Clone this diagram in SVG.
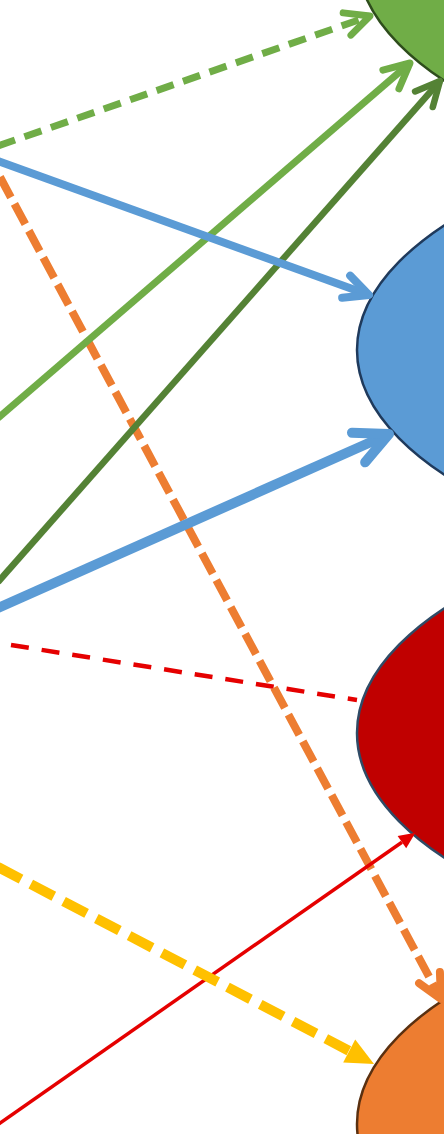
<svg xmlns="http://www.w3.org/2000/svg" width="444" height="1134" viewBox="0 0 444 1134">
  <style>
    .node { stroke-width: 2.5; }
    .edge { fill: none; stroke-linejoin: round; }
    .chev { fill: none; stroke-linecap: round; stroke-linejoin: round; stroke-dasharray: none; }
  </style>
  <defs>
    <marker id="mGreenD" markerUnits="userSpaceOnUse" orient="auto" refX="0" refY="0" markerWidth="1" markerHeight="1" overflow="visible">
      <path class="chev" d="M-24.3,-11.8 L0,0 L-24.3,11.8" stroke="#70ad47" stroke-width="7"/>
    </marker>
    <marker id="mBlue1" markerUnits="userSpaceOnUse" orient="auto" refX="0" refY="0" markerWidth="1" markerHeight="1" overflow="visible">
      <path class="chev" d="M-24.3,-11.8 L0,0 L-24.3,11.8" stroke="#5b9bd5" stroke-width="8"/>
    </marker>
    <marker id="mOrange" markerUnits="userSpaceOnUse" orient="auto" refX="0" refY="0" markerWidth="1" markerHeight="1" overflow="visible">
      <path class="chev" d="M-24.3,-11.8 L0,0 L-24.3,11.8" stroke="#ed7d31" stroke-width="8"/>
    </marker>
    <marker id="mGreen" markerUnits="userSpaceOnUse" orient="auto" refX="0" refY="0" markerWidth="1" markerHeight="1" overflow="visible">
      <path class="chev" d="M-25.2,-12.3 L0,0 L-25.2,12.3" stroke="#70ad47" stroke-width="7"/>
    </marker>
    <marker id="mDkGreen" markerUnits="userSpaceOnUse" orient="auto" refX="0" refY="0" markerWidth="1" markerHeight="1" overflow="visible">
      <path class="chev" d="M-24.3,-11.8 L0,0 L-24.3,11.8" stroke="#548235" stroke-width="6.5"/>
    </marker>
    <marker id="mBlue2" markerUnits="userSpaceOnUse" orient="auto" refX="0" refY="0" markerWidth="1" markerHeight="1" overflow="visible">
      <path class="chev" d="M-33.3,-16.2 L0,0 L-33.3,16.2" stroke="#5b9bd5" stroke-width="10"/>
    </marker>
    <marker id="mYellow" markerUnits="userSpaceOnUse" orient="auto" refX="0" refY="0" markerWidth="1" markerHeight="1" overflow="visible">
      <path d="M0,-13 L28,0 L0,13 Z" fill="#ffc000"/>
    </marker>
    <marker id="mRed" markerUnits="userSpaceOnUse" orient="auto" refX="0" refY="0" markerWidth="1" markerHeight="1" overflow="visible">
      <path d="M0,-7.5 L16.5,0 L0,7.5 Z" fill="#e50000"/>
    </marker>
  </defs>

  <g id="node-green">
    <ellipse class="node" cx="957" cy="-44" rx="600" ry="240" fill="#70ad47" stroke="#2e4d1c"/>
  </g>
  <g id="node-blue">
    <ellipse class="node" cx="957" cy="350" rx="600" ry="240" fill="#5b9bd5" stroke="#1f3a5c"/>
  </g>
  <g id="node-red">
    <ellipse class="node" cx="957" cy="733" rx="600" ry="240" fill="#c00000" stroke="#2f4b66"/>
  </g>
  <g id="node-orange">
    <ellipse class="node" cx="957" cy="1124" rx="600" ry="240" fill="#ed7d31" stroke="#5a3010"/>
  </g>

  <g id="connectors">
    <path class="edge" d="M-2,146 L370,16" stroke="#70ad47" stroke-width="7" stroke-dasharray="18 10" marker-end="url(#mGreenD)"/>
    <path class="edge" d="M11,645 L357,700" stroke="#e50000" stroke-width="4.5" stroke-dasharray="18 13"/>
    <path class="edge" d="M0,177 L441,999" stroke="#ed7d31" stroke-width="8" stroke-dasharray="23 7.5" marker-end="url(#mOrange)"/>
    <path class="edge" d="M-2,418 L410,63" stroke="#70ad47" stroke-width="7" marker-end="url(#mGreen)"/>
    <path class="edge" d="M-2,582 L440,81" stroke="#548235" stroke-width="6.5" marker-end="url(#mDkGreen)"/>
    <path class="edge" d="M-2,161 L369,295" stroke="#5b9bd5" stroke-width="8" marker-end="url(#mBlue1)"/>
    <path class="edge" d="M-2,608 L389,434" stroke="#5b9bd5" stroke-width="10" marker-end="url(#mBlue2)"/>
    <path class="edge" d="M-2,1124.5 L401.9,842.2" stroke="#e50000" stroke-width="3.5" marker-end="url(#mRed)"/>
    <path class="edge" d="M-2,867 L349.2,1050.9" stroke="#ffc000" stroke-width="10" stroke-dasharray="26 11" marker-end="url(#mYellow)"/>
  </g>
</svg>
